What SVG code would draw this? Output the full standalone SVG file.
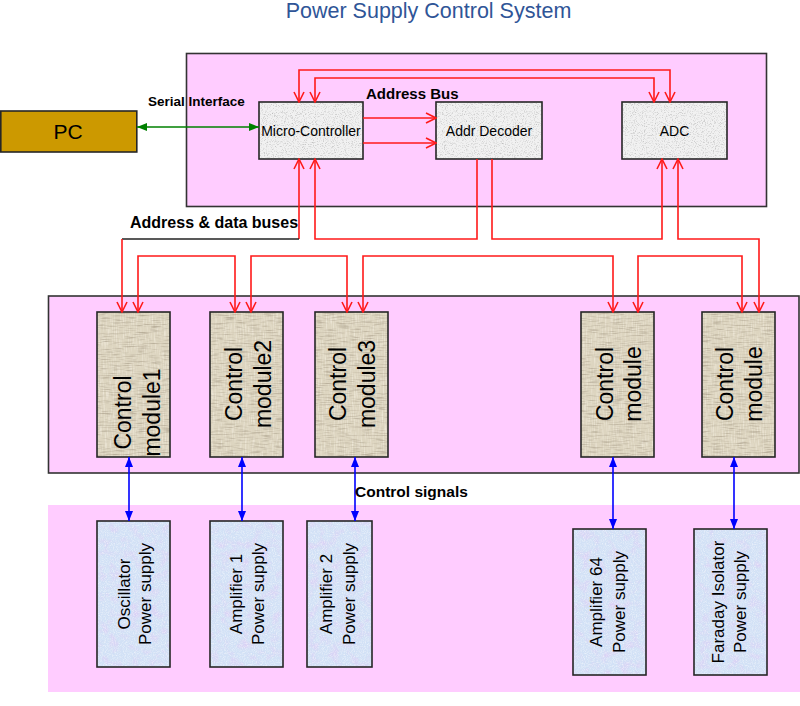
<svg xmlns="http://www.w3.org/2000/svg" width="800" height="706" viewBox="0 0 800 706">
<style>
text{font-family:"Liberation Sans",Arial,sans-serif;fill:#000}
.title{font-size:21.5px;fill:#2F5597}
.lbl{font-weight:bold}
.box{stroke:#262626;stroke-width:1.6}
.panel{fill:#FFCCFF;stroke:#333;stroke-width:1.6}
.chip{fill:#F1F1F1}
.mod{fill:#DDD5C0}
.ps{fill:#D2E1F6}
.chipT{font-size:14px}
.modT{font-size:23px}
.psT{font-size:17px}
.red{fill:none;stroke:#FF1A1A;stroke-width:1.6}
.blk{fill:none;stroke:#222;stroke-width:1.6}
.blue{fill:none;stroke:#0000FF;stroke-width:1.6}
.green{fill:none;stroke:#008000;stroke-width:1.6}
</style>
<defs>
<marker id="ra" viewBox="0 0 12 12" refX="11" refY="6" markerWidth="12" markerHeight="12" markerUnits="userSpaceOnUse" orient="auto-start-reverse">
<path d="M1,1 L11,6 L1,11" fill="none" stroke="#FF1A1A" stroke-width="1.6"/>
</marker>
<marker id="ba" viewBox="0 0 10 8" refX="10" refY="4" markerWidth="10" markerHeight="8" markerUnits="userSpaceOnUse" orient="auto-start-reverse">
<path d="M0,0 L10,4 L0,8 z" fill="#0000FF"/>
</marker>
<marker id="ga" viewBox="0 0 10 8" refX="10" refY="4" markerWidth="10" markerHeight="8" markerUnits="userSpaceOnUse" orient="auto-start-reverse">
<path d="M0,0 L10,4 L0,8 z" fill="#008000"/>
</marker>
<filter id="grain" x="0" y="0" width="1" height="1" color-interpolation-filters="sRGB">
<feTurbulence type="fractalNoise" baseFrequency="0.9" numOctaves="2" seed="2" result="n"/>
<feColorMatrix in="n" type="matrix" values="0 0 0 0 0.45  0 0 0 0 0.45  0 0 0 0 0.45  1.0 0 0 0 -0.5" result="s"/>
<feComposite in="s" in2="SourceGraphic" operator="in" result="c"/>
<feMerge><feMergeNode in="SourceGraphic"/><feMergeNode in="c"/></feMerge>
</filter>
<filter id="weave" x="0" y="0" width="1" height="1" color-interpolation-filters="sRGB">
<feTurbulence type="fractalNoise" baseFrequency="0.9 0.08" numOctaves="2" seed="3" result="n"/>
<feColorMatrix in="n" type="matrix" values="0 0 0 0 0.97  0 0 0 0 0.95  0 0 0 0 0.9  1.4 0 0 0 -0.62" result="s"/>
<feComposite in="s" in2="SourceGraphic" operator="in" result="c"/>
<feTurbulence type="fractalNoise" baseFrequency="0.08 0.9" numOctaves="2" seed="9" result="n2"/>
<feColorMatrix in="n2" type="matrix" values="0 0 0 0 0.55  0 0 0 0 0.5  0 0 0 0 0.42  1.2 0 0 0 -0.58" result="d"/>
<feComposite in="d" in2="SourceGraphic" operator="in" result="d2"/>
<feMerge><feMergeNode in="SourceGraphic"/><feMergeNode in="c"/><feMergeNode in="d2"/></feMerge>
</filter>
<filter id="blotch" x="0" y="0" width="1" height="1" color-interpolation-filters="sRGB">
<feTurbulence type="fractalNoise" baseFrequency="0.1" numOctaves="3" seed="7" result="n"/>
<feColorMatrix in="n" type="matrix" values="0 0 0 0 0.88  0 0 0 0 0.78  0 0 0 0 0.96  1.5 0 0 0 -0.72" result="s"/>
<feComposite in="s" in2="SourceGraphic" operator="in" result="c"/>
<feTurbulence type="fractalNoise" baseFrequency="0.9" numOctaves="2" seed="4" result="n2"/>
<feColorMatrix in="n2" type="matrix" values="0 0 0 0 1  0 0 0 0 1  0 0 0 0 1  1.2 0 0 0 -0.5" result="w"/>
<feComposite in="w" in2="SourceGraphic" operator="in" result="w2"/>
<feMerge><feMergeNode in="SourceGraphic"/><feMergeNode in="c"/><feMergeNode in="w2"/></feMerge>
</filter>
</defs>

<rect width="800" height="706" fill="#FFFFFF"/>

<text class="title" x="428.5" y="18" text-anchor="middle">Power Supply Control System</text>

<g id="panel-top"><rect class="panel" x="186.5" y="53.5" width="580" height="153"/></g>
<g id="panel-modules"><rect class="panel" x="48.5" y="296" width="750.5" height="177"/></g>
<g id="panel-supplies"><rect x="48" y="505" width="752" height="187" fill="#FFCCFF"/></g>

<g id="pc">
<rect x="0.8" y="111" width="136" height="41" fill="#CC9900" class="box"/>
<text x="68" y="139" text-anchor="middle" font-size="21">PC</text>
</g>

<g id="micro-controller">
<rect class="chip" x="259" y="102" width="104" height="57" filter="url(#grain)"/>
<rect x="259" y="102" width="104" height="57" fill="none" class="box"/>
<text class="chipT" x="311" y="136" text-anchor="middle">Micro-Controller</text>
</g>
<g id="addr-decoder">
<rect class="chip" x="436" y="102" width="106" height="57" filter="url(#grain)"/>
<rect x="436" y="102" width="106" height="57" fill="none" class="box"/>
<text class="chipT" x="489" y="136" text-anchor="middle">Addr Decoder</text>
</g>
<g id="adc">
<rect class="chip" x="622" y="102" width="105" height="57" filter="url(#grain)"/>
<rect x="622" y="102" width="105" height="57" fill="none" class="box"/>
<text class="chipT" x="674.5" y="136" text-anchor="middle">ADC</text>
</g>

<g id="module1">
<rect class="mod" x="97" y="312" width="73" height="145" filter="url(#weave)"/>
<rect x="97" y="312" width="73" height="145" fill="none" class="box"/>
<text class="modT" transform="translate(133.5,412.5) rotate(-90)" text-anchor="middle"><tspan x="0" y="-2.5">Control</tspan><tspan x="0" y="26.5">module1</tspan></text>
</g>
<g id="module2">
<rect class="mod" x="210" y="312" width="73" height="145" filter="url(#weave)"/>
<rect x="210" y="312" width="73" height="145" fill="none" class="box"/>
<text class="modT" transform="translate(246.5,384) rotate(-90)" text-anchor="middle"><tspan x="0" y="-5">Control</tspan><tspan x="0" y="24">module2</tspan></text>
</g>
<g id="module3">
<rect class="mod" x="315" y="312" width="73" height="145" filter="url(#weave)"/>
<rect x="315" y="312" width="73" height="145" fill="none" class="box"/>
<text class="modT" transform="translate(351.5,384) rotate(-90)" text-anchor="middle"><tspan x="0" y="-5.5">Control</tspan><tspan x="0" y="23.5">module3</tspan></text>
</g>
<g id="module4">
<rect class="mod" x="581" y="312" width="73" height="145" filter="url(#weave)"/>
<rect x="581" y="312" width="73" height="145" fill="none" class="box"/>
<text class="modT" transform="translate(617.5,384) rotate(-90)" text-anchor="middle"><tspan x="0" y="-4.5">Control</tspan><tspan x="0" y="23.5">module</tspan></text>
</g>
<g id="module5">
<rect class="mod" x="702" y="312" width="73" height="145" filter="url(#weave)"/>
<rect x="702" y="312" width="73" height="145" fill="none" class="box"/>
<text class="modT" transform="translate(738.5,384) rotate(-90)" text-anchor="middle"><tspan x="0" y="-5.5">Control</tspan><tspan x="0" y="23.5">module</tspan></text>
</g>

<g id="ps-oscillator">
<rect class="ps" x="97" y="521" width="73" height="146" filter="url(#blotch)"/>
<rect x="97" y="521" width="73" height="146" fill="none" class="box"/>
<text class="psT" transform="translate(133.5,594) rotate(-90)" text-anchor="middle"><tspan x="0" y="-3.5">Oscillator</tspan><tspan x="0" y="17.5">Power supply</tspan></text>
</g>
<g id="ps-amplifier1">
<rect class="ps" x="210" y="521" width="73" height="146" filter="url(#blotch)"/>
<rect x="210" y="521" width="73" height="146" fill="none" class="box"/>
<text class="psT" transform="translate(246.5,594) rotate(-90)" text-anchor="middle"><tspan x="0" y="-5">Amplifier 1</tspan><tspan x="0" y="17.5">Power supply</tspan></text>
</g>
<g id="ps-amplifier2">
<rect class="ps" x="307" y="521" width="65" height="146" filter="url(#blotch)"/>
<rect x="307" y="521" width="65" height="146" fill="none" class="box"/>
<text class="psT" transform="translate(339.5,594) rotate(-90)" text-anchor="middle"><tspan x="0" y="-8">Amplifier 2</tspan><tspan x="0" y="15">Power supply</tspan></text>
</g>
<g id="ps-amplifier64">
<rect class="ps" x="573" y="529" width="73" height="146" filter="url(#blotch)"/>
<rect x="573" y="529" width="73" height="146" fill="none" class="box"/>
<text class="psT" transform="translate(609.5,602) rotate(-90)" text-anchor="middle"><tspan x="0" y="-8">Amplifier 64</tspan><tspan x="0" y="15">Power supply</tspan></text>
</g>
<g id="ps-faraday">
<rect class="ps" x="694" y="529" width="73" height="146" filter="url(#blotch)"/>
<rect x="694" y="529" width="73" height="146" fill="none" class="box"/>
<text class="psT" transform="translate(730.5,602) rotate(-90)" text-anchor="middle"><tspan x="0" y="-7">Faraday Isolator</tspan><tspan x="0" y="15">Power supply</tspan></text>
</g>

<g id="connectors">
<path class="green" d="M137,127 H259" marker-start="url(#ga)" marker-end="url(#ga)"/>
<path class="red" d="M299,102 V70 H670 V102" marker-start="url(#ra)" marker-end="url(#ra)"/>
<path class="red" d="M315,102 V78 H654 V102" marker-start="url(#ra)" marker-end="url(#ra)"/>
<path class="red" d="M363,118 H436" marker-end="url(#ra)"/>
<path class="red" d="M363,143 H436" marker-end="url(#ra)"/>
<path class="red" d="M299,239 V159" marker-end="url(#ra)"/>
<path class="blk" d="M299,239 H122"/>
<path class="red" d="M122,239 V312" marker-end="url(#ra)"/>
<path class="red" d="M315,159 V239 H477 V159" marker-start="url(#ra)"/>
<path class="red" d="M492,159 V239 H662 V159" marker-end="url(#ra)"/>
<path class="red" d="M678,159 V239 H759 V312" marker-start="url(#ra)" marker-end="url(#ra)"/>
<path class="red" d="M138,312 V256 H235 V312" marker-start="url(#ra)" marker-end="url(#ra)"/>
<path class="red" d="M251,312 V256 H347 V312" marker-start="url(#ra)" marker-end="url(#ra)"/>
<path class="red" d="M363,312 V256 H613 V312" marker-start="url(#ra)" marker-end="url(#ra)"/>
<path class="red" d="M638,312 V256 H742 V312" marker-start="url(#ra)" marker-end="url(#ra)"/>
<path class="blue" d="M129,457 V521" marker-start="url(#ba)" marker-end="url(#ba)"/>
<path class="blue" d="M242,457 V521" marker-start="url(#ba)" marker-end="url(#ba)"/>
<path class="blue" d="M355,457 V521" marker-start="url(#ba)" marker-end="url(#ba)"/>
<path class="blue" d="M613,457 V529" marker-start="url(#ba)" marker-end="url(#ba)"/>
<path class="blue" d="M734,457 V529" marker-start="url(#ba)" marker-end="url(#ba)"/>
</g>

<g id="labels">
<text class="lbl" x="148" y="106" font-size="13.5">Serial Interface</text>
<text class="lbl" x="366" y="99" font-size="15">Address Bus</text>
<text class="lbl" x="130" y="228" font-size="16">Address &amp; data buses</text>
<text class="lbl" x="355" y="497" font-size="15.5">Control signals</text>
</g>
</svg>
